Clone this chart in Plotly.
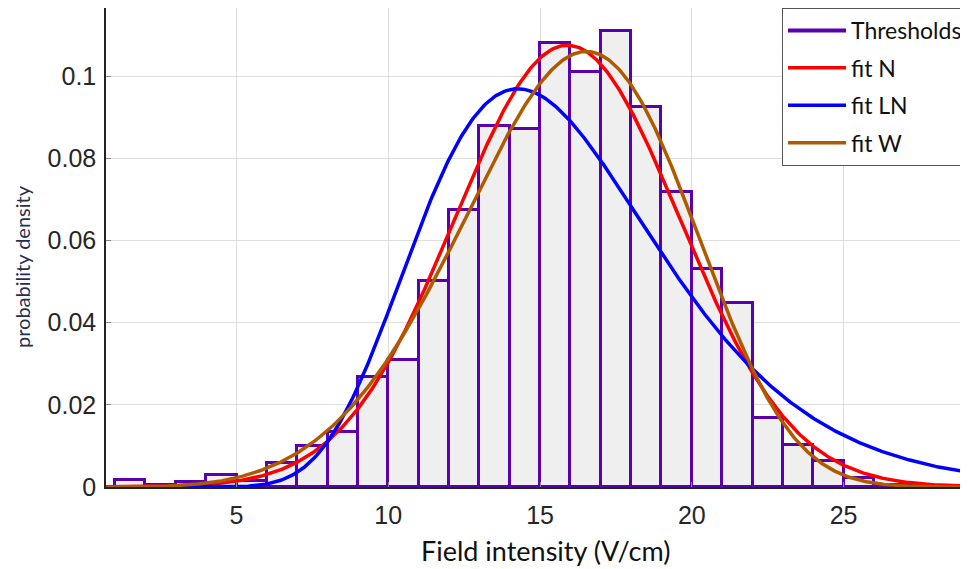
import numpy as np
import plotly.graph_objects as go

# Histogram bins (V/cm) and probability density per bin
bin_left = [1, 2, 3, 4, 5, 6, 7, 8, 9, 10, 11, 12, 13, 14, 15, 16, 17, 18,
            19, 20, 21, 22, 23, 24, 25, 26, 27, 28]
density = [0.0016, 0.0004, 0.0012, 0.0030, 0.0015, 0.0058, 0.0099, 0.0133,
           0.0268, 0.0310, 0.0502, 0.0674, 0.0879, 0.0871, 0.1080, 0.1011,
           0.1110, 0.0924, 0.0719, 0.0530, 0.0448, 0.0167, 0.0102, 0.0063,
           0.0022, 0.0004, 0.0002, 0.0002]
bin_width = 1.0

# Fitted distribution parameters
normal_mu, normal_sigma = 15.9, 3.71
lognorm_mu, lognorm_sigma = 2.7352, 0.2775
weibull_scale, weibull_shape = 17.32, 4.88

x_ticks = [5, 10, 15, 20, 25]
y_ticks = [0, 0.02, 0.04, 0.06, 0.08, 0.1]
y_tick_labels = ["0", "0.02", "0.04", "0.06", "0.08", "0.1"]

PURPLE = "#5A00B0"
BROWN = "#B05A00"

xs = np.linspace(0.5, 30, 600)
pdf_n = np.exp(-(xs - normal_mu) ** 2 / (2 * normal_sigma ** 2)) / (normal_sigma * np.sqrt(2 * np.pi))
pdf_ln = np.exp(-(np.log(xs) - lognorm_mu) ** 2 / (2 * lognorm_sigma ** 2)) / (xs * lognorm_sigma * np.sqrt(2 * np.pi))
pdf_w = (weibull_shape / weibull_scale) * (xs / weibull_scale) ** (weibull_shape - 1) * np.exp(-(xs / weibull_scale) ** weibull_shape)

centers = [b + bin_width / 2 for b in bin_left]

fig = go.Figure()
fig.add_trace(go.Bar(
    x=centers, y=density, width=bin_width,
    marker=dict(color="#EFEFEF", line=dict(color=PURPLE, width=3)),
    showlegend=False, name="Thresholds", legendgroup="g0",
))
# legend entry for histogram (drawn as line, as in reference)
fig.add_trace(go.Scatter(x=[None], y=[None], mode="lines", name="Thresholds",
                         line=dict(color=PURPLE, width=4), legendgroup="g0"))
fig.add_trace(go.Scatter(x=xs, y=pdf_n, mode="lines", name="fit N",
                         line=dict(color="#FF0000", width=3.5), legendgroup="g1"))
fig.add_trace(go.Scatter(x=xs, y=pdf_ln, mode="lines", name="fit LN",
                         line=dict(color="#0000FF", width=3.5), legendgroup="g2"))
fig.add_trace(go.Scatter(x=xs, y=pdf_w, mode="lines", name="fit W",
                         line=dict(color=BROWN, width=3.5), legendgroup="g3"))

tick_font = dict(family="Liberation Sans", size=25, color="#262626")

fig.update_layout(
    width=960, height=561,
    margin=dict(l=98, r=0, t=0, b=82),
    paper_bgcolor="white", plot_bgcolor="white",
    bargap=0,
    showlegend=True,
    legend=dict(
        x=1.0, y=1.0, xanchor="right", yanchor="top",
        bgcolor="white", bordercolor="#555555", borderwidth=1,
        font=dict(family="Lato", size=23, color="#111111"),
        tracegroupgap=4.5, itemwidth=58,
    ),
    xaxis=dict(
        range=[0.7, 29.1], tickvals=x_ticks,
        showgrid=True, gridcolor="#DEDEDE", gridwidth=1,
        showline=True, linecolor="#222222", linewidth=1.5,
        ticks="inside", ticklen=5, tickcolor="#888888",
        tickfont=tick_font, ticklabelstandoff=5,
        zeroline=False,
    ),
    yaxis=dict(
        range=[0, 0.1166], tickvals=y_ticks, ticktext=y_tick_labels,
        showgrid=True, gridcolor="#DEDEDE", gridwidth=1,
        showline=True, linecolor="#222222", linewidth=1.5,
        ticks="inside", ticklen=5, tickcolor="#888888",
        tickfont=tick_font, ticklabelstandoff=3,
        zeroline=False,
    ),
    annotations=[
        dict(text="Field intensity (V/cm)", xref="paper", yref="paper",
             x=0.5104, y=-0.1336, xanchor="center", yanchor="middle",
             showarrow=False, font=dict(family="Lato", size=27, color="#111111")),
        dict(text="probability density", xref="paper", yref="paper",
             x=-0.0974, y=0.4593, xanchor="center", yanchor="middle",
             textangle=-90, showarrow=False,
             font=dict(family="Lato", size=20, color="#1F3050")),
    ],
)

fig.write_html("out.html")
